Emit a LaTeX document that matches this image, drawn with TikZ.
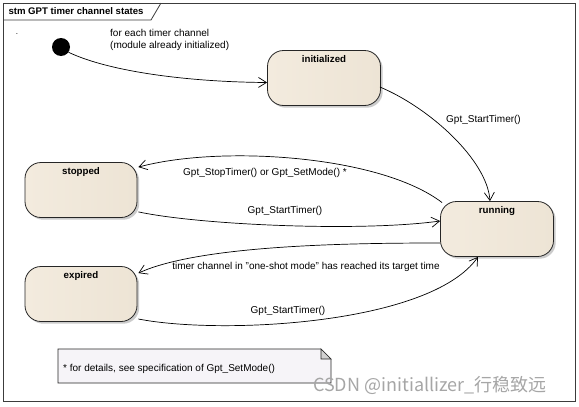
\documentclass[tikz,border=0pt]{standalone}
\usepackage{fontspec}
\setmainfont{Liberation Sans}
\newfontfamily\cjk{Noto Sans CJK SC}
\usetikzlibrary{arrows.meta,shadows}
\definecolor{stL}{RGB}{243,235,222}
\definecolor{stM}{RGB}{253,246,235}
\definecolor{stR}{RGB}{237,228,213}
\definecolor{notefill}{RGB}{246,244,248}
\definecolor{framecol}{RGB}{60,60,60}
\tikzset{
  state/.style={draw=black!85, line width=0.8pt, rounded corners=16pt,
    left color=stL, middle color=stM, right color=stR,
    minimum width=#1, minimum height=55pt, inner sep=0pt,
    drop shadow={shadow xshift=2.2pt, shadow yshift=-2.2pt, fill=black!40, opacity=0.5}},
  state/.default=113pt,
  stname/.style={font=\bfseries\fontsize{9.7}{11}\selectfont, anchor=north, inner sep=0pt},
  lbl/.style={font=\fontsize{10}{12}\selectfont, inner sep=0pt},
  trans/.style={line width=0.7pt, -{Straight Barb[length=8pt,width=10pt,line width=0.7pt]}},
}
\begin{document}
\begin{tikzpicture}[x=1pt,y=-1pt]
\useasboundingbox (0,0) rectangle (579,407);
\fill[white] (0,0) rectangle (579,407);
% frame
\draw[framecol, line width=0.8pt] (3,3) rectangle (575,401);
\draw[framecol, line width=0.8pt] (3,20) -- (151,20) -- (161,3);
\node[font=\bfseries\fontsize{9.6}{11}\selectfont, inner sep=0pt] (title) at (76,11.5) {stm GPT timer channel states};
\node[font=\fontsize{8}{10}\selectfont, inner sep=0pt] (dot) at (17,34) {.};

% states
\node[state] (initialized) at (324,78) {};
\node[stname] (initializedt) at ([yshift=-5pt]initialized.north) {initialized};
\node[state] (running) at (497,229) {};
\node[stname] (runningt) at ([yshift=-5pt]running.north) {running};
\node[state=112pt] (stopped) at (81,190) {};
\node[stname] (stoppedt) at ([yshift=-5pt]stopped.north) {stopped};
\node[state=112pt] (expired) at (81,294) {};
\node[stname] (expiredt) at ([yshift=-5pt]expired.north) {expired};

% initial
\node[circle, fill=black, minimum size=18pt, inner sep=0pt] (start) at (61,47) {};

% transitions
\draw[trans] (start.-35) .. controls (110,72) and (190,82) .. ([yshift=-4.5pt]initialized.west);
\draw[trans] ([xshift=-1pt,yshift=-9pt]initialized.east) .. controls (430,108) and (487,160) .. ([xshift=-7pt]running.north);
\draw[trans] ([xshift=2pt,yshift=-1.5pt]running.north west) .. controls (380,155) and (220,145) .. ([xshift=1pt,yshift=-5pt]stopped.north east);
\draw[trans] ([xshift=1pt,yshift=6pt]stopped.south east) .. controls (200,225) and (360,232) .. ([yshift=8pt]running.west);
\draw[trans] ([yshift=-14pt]running.west) .. controls (350,243) and (200,245) .. ([xshift=1pt,yshift=-7pt]expired.north east);
\draw[trans] ([xshift=1pt,yshift=-6pt]expired.east |- 0,313) .. controls (220,335) and (430,325) .. ([xshift=-19pt]running.south);

% labels
\node[lbl, anchor=north west, align=left] (lblinit) at (110,29.5) {for each timer channel\\(module already initialized)};
\node[lbl] (lbl1) at (483.5,120) {Gpt\_StartTimer()};
\node[lbl] (lbl2) at (265,173) {Gpt\_StopTimer() or Gpt\_SetMode() *};
\node[lbl] (lbl3) at (285,211) {Gpt\_StartTimer()};
\node[lbl] (lbl4) at (306,267) {timer channel in "one-shot mode" has reached its target time};
\node[lbl] (lbl5) at (288,311) {Gpt\_StartTimer()};

% note
\draw[black!85, line width=0.7pt, fill=notefill] (58,349) -- (321,349) -- (331,359) -- (331,383) -- (58,383) -- cycle;
\draw[black!85, line width=0.6pt, fill=black!18] (321,349) -- (321,359) -- (331,359) -- cycle;
\node[lbl, anchor=west] (notet) at (63,369) {* for details, see specification of Gpt\_SetMode()};

% watermark
\node[font=\cjk\fontsize{18}{20}\selectfont, text=black!35, inner sep=0pt] (wm) at (430,385) {CSDN @initiallizer\_行稳致远};
\end{tikzpicture}
\end{document}
